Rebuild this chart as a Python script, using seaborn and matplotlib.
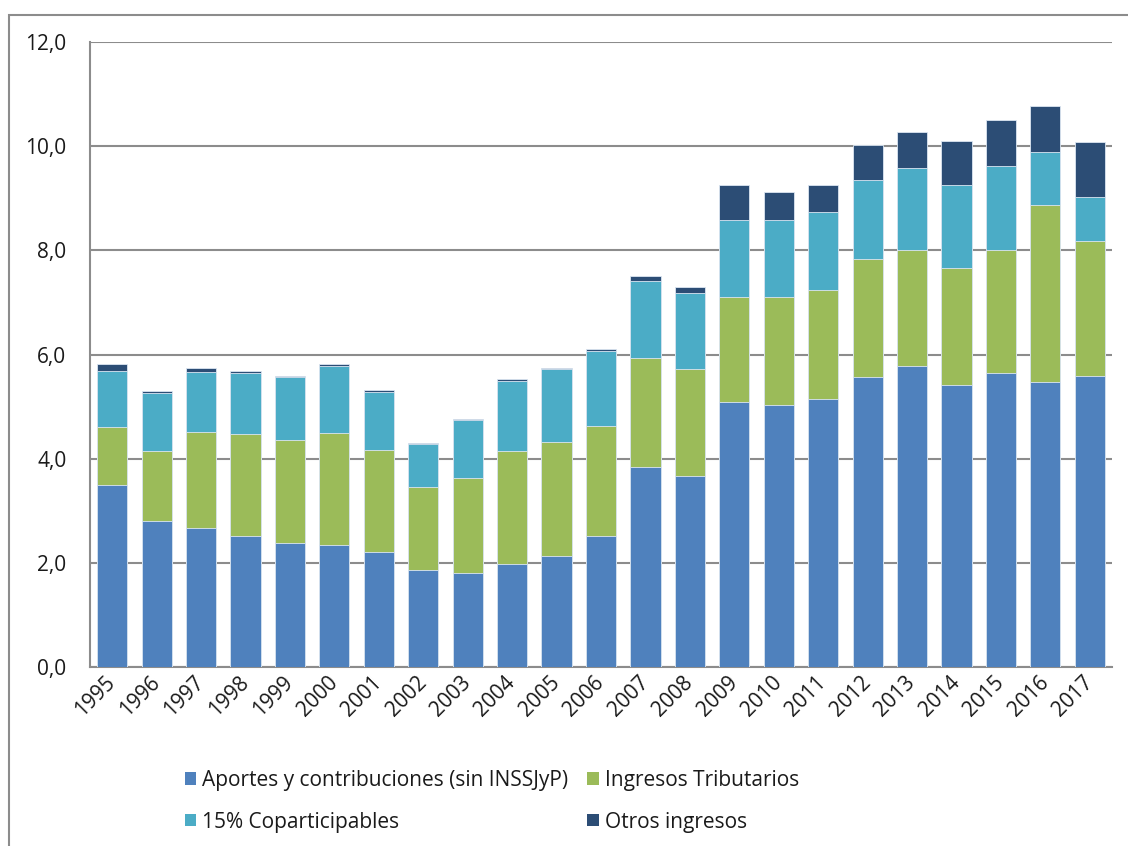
import numpy as np
import pandas as pd
import matplotlib
matplotlib.use("Agg")
import matplotlib.pyplot as plt
import seaborn as sns
from matplotlib.patches import Rectangle, Patch

# --- datos (billones) ---
ANIOS = [str(a) for a in range(1995, 2018)]
APORTES = [3.49, 2.80, 2.67, 2.51, 2.38, 2.34, 2.20, 1.86, 1.80, 1.98, 2.14, 2.51,
           3.84, 3.67, 5.08, 5.03, 5.14, 5.57, 5.77, 5.41, 5.64, 5.48, 5.59]
TRIBUTARIOS = [1.12, 1.34, 1.85, 1.97, 1.98, 2.16, 1.97, 1.59, 1.83, 2.16, 2.18, 2.12,
               2.09, 2.06, 2.03, 2.08, 2.10, 2.26, 2.23, 2.26, 2.36, 3.39, 2.59]
COPARTICIPABLES = [1.07, 1.12, 1.14, 1.17, 1.21, 1.27, 1.11, 0.84, 1.12, 1.36, 1.41, 1.43,
                   1.48, 1.45, 1.47, 1.47, 1.50, 1.53, 1.58, 1.58, 1.61, 1.01, 0.85]
OTROS = [0.14, 0.04, 0.09, 0.03, 0.02, 0.04, 0.03, 0.02, 0.02, 0.03, 0.02, 0.04,
         0.10, 0.11, 0.67, 0.54, 0.51, 0.67, 0.69, 0.85, 0.90, 0.89, 1.05]

SERIES = ["Aportes y contribuciones (sin INSSJyP)", "Ingresos Tributarios",
          "15% Coparticipables", "Otros ingresos"]
COLORES = ["#4F81BD", "#9BBB59", "#4BACC6", "#2C4D75"]


def main():
    sns.set_theme(style="white")
    plt.rcParams["font.family"] = ["Open Sans", "DejaVu Sans"]

    df = pd.DataFrame({"anio": ANIOS, SERIES[0]: APORTES, SERIES[1]: TRIBUTARIOS,
                       SERIES[2]: COPARTICIPABLES, SERIES[3]: OTROS})
    acumulado = df[SERIES].cumsum(axis=1)

    fig = plt.figure(figsize=(11.28, 8.46), dpi=100)
    ax = fig.add_axes([90 / 1128, 1 - 667 / 846, 1022 / 1128, 625 / 846])

    # barras apiladas: se dibuja el total primero y se tapan los niveles inferiores
    for serie, color in reversed(list(zip(SERIES, COLORES))):
        sns.barplot(x=df["anio"], y=acumulado[serie], color=color, width=0.68,
                    saturation=1, edgecolor="#dce6f2", linewidth=0.6, ax=ax, zorder=3)

    ax.set_xlim(-0.5, len(ANIOS) - 0.5)
    ax.set_ylim(0, 12)
    ax.set_yticks(np.arange(0, 12.1, 2))
    ax.set_yticklabels([f"{v:.1f}".replace(".", ",") for v in np.arange(0, 12.1, 2)])
    ax.grid(axis="y", color="#8c8c8c", linewidth=1.5, zorder=0)
    ax.set_axisbelow(True)
    ax.set_xlabel("")
    ax.set_ylabel("")
    for lado in ["top", "right"]:
        ax.spines[lado].set_visible(False)
    for lado in ["left", "bottom"]:
        ax.spines[lado].set_color("#8c8c8c")
        ax.spines[lado].set_linewidth(1.5)
    ax.tick_params(axis="y", length=0, pad=17, labelsize=15, labelcolor="#1a1a1a")
    ax.tick_params(axis="x", length=0, pad=9, labelsize=15, labelcolor="#1a1a1a")
    for lbl in ax.get_xticklabels():
        lbl.set_rotation(45)
        lbl.set_ha("right")
        lbl.set_va("center")
        lbl.set_rotation_mode("anchor")

    # leyenda inferior en dos columnas (orden por filas)
    orden = [0, 2, 1, 3]
    handles = [Patch(facecolor=COLORES[i], edgecolor="none") for i in orden]
    etiquetas = [SERIES[i] for i in orden]
    fig.legend(handles, etiquetas, loc="upper left", ncol=2, frameon=False,
               bbox_to_anchor=(166 / 1128, 1 - 751 / 846), fontsize=15,
               handlelength=0.55, handleheight=0.55, handletextpad=0.3,
               columnspacing=0.9, labelspacing=1.0, labelcolor="#1a1a1a")

    # marco exterior del area del grafico
    fig.patches.append(Rectangle((9 / 1128, -0.1), 1.2, 0.1 + 1 - 15 / 846,
                                 transform=fig.transFigure, fill=False,
                                 edgecolor="#8c8c8c", linewidth=1.5, clip_on=False))

    fig.savefig("out.png", dpi=100)
    plt.close(fig)


if __name__ == "__main__":
    main()
